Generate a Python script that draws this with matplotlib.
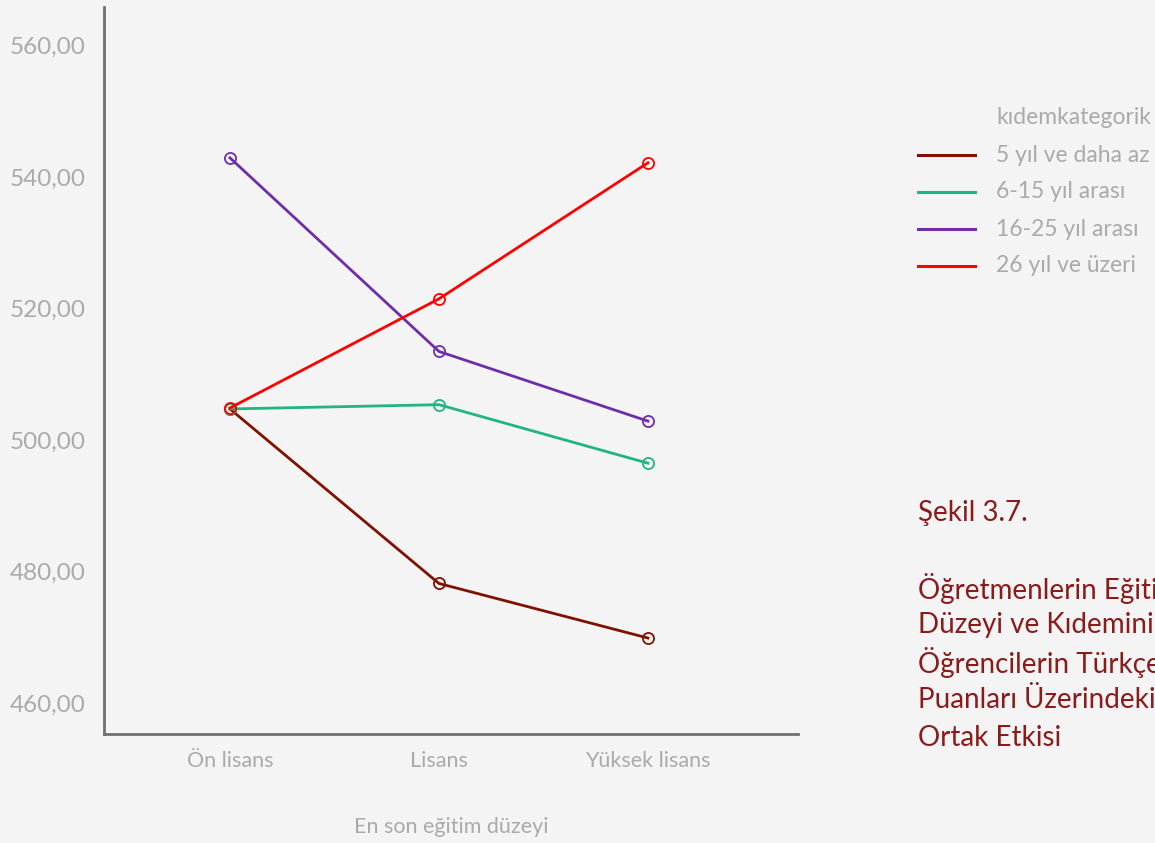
import numpy as np
import matplotlib.pyplot as plt
from matplotlib.lines import Line2D

# education levels on the x axis
levels = ["Ön lisans", "Lisans", "Yüksek lisans"]

# mean scores per seniority group
kidem_labels = ["5 yıl ve daha az", "6-15 yıl arası", "16-25 yıl arası", "26 yıl ve üzeri"]
kidem_5_az = [504.75, 478.2, 469.9]
kidem_6_15 = [504.75, 505.4, 496.5]
kidem_16_25 = [542.95, 513.5, 502.9]
kidem_26_uzeri = [504.9, 521.5, 542.2]

yticks = [460, 480, 500, 520, 540, 560]

caption_lines = ["Şekil 3.7.", "",
                 "Öğretmenlerin Eğitim",
                 "Düzeyi ve Kıdeminin",
                 "Öğrencilerin Türkçe",
                 "Puanları Üzerindeki",
                 "Ortak Etkisi"]

colors = ["#7f1100", "#21b57f", "#6f2da8", "#ff0000"]
series = [kidem_5_az, kidem_6_15, kidem_16_25, kidem_26_uzeri]

bg = "#f4f4f4"
tick_col = "#aaaaaa"
font = "Lato"
W, H = 1155, 843

fig = plt.figure(figsize=(11.55, 8.43), dpi=100, facecolor=bg)
ax = fig.add_axes([0.090, 0.1293, 0.6009, 0.8624], facecolor=bg)

x = np.arange(len(levels))
for vals, col in zip(series, colors):
    ax.plot(x, vals, color=col, lw=2)
    ax.plot(x, vals, linestyle="none", marker="o", ms=8, mfc="none",
            mec=col, mew=1.3)

ax.set_xlim(-0.603, 2.718)
ax.set_ylim(455.3, 565.9)
ax.set_xticks(x)
ax.set_xticklabels(levels)
ax.set_yticks(yticks)
ax.set_yticklabels([f"{v:.2f}".replace(".", ",") for v in yticks])
ax.tick_params(length=0, colors=tick_col)
ax.tick_params(axis="y", labelsize=17.5, pad=13)
ax.tick_params(axis="x", labelsize=15.5, pad=12)
for lbl in ax.get_xticklabels() + ax.get_yticklabels():
    lbl.set_fontfamily(font)

for side in ["top", "right"]:
    ax.spines[side].set_visible(False)
for side in ["left", "bottom"]:
    ax.spines[side].set_color("#707070")
    ax.spines[side].set_linewidth(2)

ax.set_xlabel("En son eğitim düzeyi", fontsize=15.5, color=tick_col,
              fontfamily=font, labelpad=33)

# legend drawn by hand so the title sits over the labels
fig.text(996 / W, 1 - 117 / H, "kıdemkategorik", color=tick_col, fontsize=16.5,
         fontfamily=font, ha="left", va="center")
for i, (col, lab) in enumerate(zip(colors, kidem_labels)):
    yy = 1 - (155 + i * 37) / H
    fig.add_artist(Line2D([918 / W, 975 / W], [yy, yy], color=col, lw=2.2,
                          transform=fig.transFigure))
    fig.text(996 / W, yy, lab, color=tick_col, fontsize=16.5,
             fontfamily=font, ha="left", va="center")

# figure caption, one line at a time; the long lines run off the right edge
for i, line in enumerate(caption_lines):
    if not line:
        continue
    yy = 1 - (513 + i * 37.5) / H if i else 1 - 513 / H
    fig.text(918 / W, yy, line, color="#8b1a1a", fontsize=20,
             fontfamily=font, ha="left", va="center")

fig.savefig("out.png", dpi=100, facecolor=bg)
